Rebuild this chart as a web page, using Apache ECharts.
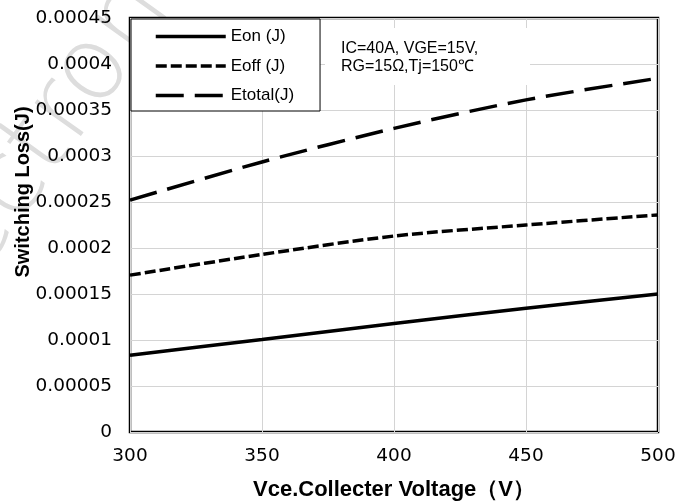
<!DOCTYPE html>
<html>
<head>
<meta charset="utf-8">
<script src="https://cdn.jsdelivr.net/npm/echarts@6/dist/echarts.min.js"></script>
<style>
  html, body { margin: 0; padding: 0; background: #fff; }
  #chart { width: 688px; height: 504px; }
</style>
</head>
<body>
<div id="chart"></div>
<script>
// values (J)
const voltage = [300, 350, 400, 450, 500];
const eon = [0.0000835, 0.0001005, 0.000118, 0.0001345, 0.00015];
const eoff = [0.0001705, 0.000193, 0.000213, 0.000225, 0.000236];
const etotal = [0.000252, 0.0002935, 0.00033, 0.000361, 0.0003845];
const seriesNames = ['Eon (J)', 'Eoff (J)', 'Etotal(J)'];
const noteLines = ['IC=40A, VGE=15V,', 'RG=15\u03a9,Tj=150\u2103'];

const chart = echarts.init(document.getElementById('chart'));

function pairs(ys) {
    return voltage.map((x, i) => [x, ys[i]]);
}

const lineOf = (name, ys, dash) => ({
    name: name,
    type: 'line',
    data: pairs(ys),
    smooth: 0.3,
    symbol: 'none',
    lineStyle: { color: '#000', width: 3.5, type: dash },
    itemStyle: { color: '#000' },
    z: 3
});

const option = {
    animation: false,
    backgroundColor: '#fff',
    grid: {
        left: 130, right: 30, top: 18, bottom: 72,
        outerBoundsMode: 'none',
        show: true,
        backgroundColor: '#fff',
        borderColor: '#000',
        borderWidth: 2.5
    },
    legend: {
        data: seriesNames,
        orient: 'vertical',
        left: 131, top: 19,
        padding: [9, 26, 7, 23],
        itemWidth: 70, itemHeight: 14, itemGap: 12.5,
        backgroundColor: '#fff',
        borderColor: '#000',
        borderWidth: 1,
        // hide the point symbol, keep the dashed line
        itemStyle: { opacity: 0 },
        lineStyle: { width: 3.5 },
        textStyle: { fontFamily: 'Liberation Sans', fontSize: 17, color: '#000' }
    },
    xAxis: {
        type: 'value',
        min: 300, max: 500, interval: 50,
        name: 'Vce.Collecter Voltage\uff08V\uff09',
        nameLocation: 'middle',
        nameGap: 47,
        nameTextStyle: { fontFamily: 'Liberation Sans', fontWeight: 'bold', fontSize: 22, color: '#000' },
        axisLine: { show: false },
        axisTick: { show: false },
        axisLabel: { fontFamily: 'DejaVu Sans', fontSize: 18.5, color: '#000', margin: 15 },
        splitLine: { lineStyle: { color: '#d4d4d4', width: 1 } }
    },
    yAxis: {
        type: 'value',
        min: 0, max: 0.00045, interval: 0.00005,
        name: 'Switching Loss(J)',
        nameLocation: 'middle',
        nameGap: 97,
        nameMoveOverlap: false,
        nameTextStyle: { fontFamily: 'Liberation Sans', fontWeight: 'bold', fontSize: 20, color: '#000', padding: [0, 0, 0, 66] },
        axisLine: { show: false },
        axisTick: { show: false },
        axisLabel: {
            fontFamily: 'DejaVu Sans', fontSize: 18.5, color: '#000', margin: 18,
            formatter: v => String(parseFloat(v.toFixed(6)))
        },
        splitLine: { lineStyle: { color: '#d4d4d4', width: 1 } }
    },
    graphic: [
        {
            // faint watermark behind the plot
            type: 'text',
            z: -10,
            x: 0, y: 292,
            rotation: 0.95,
            style: {
                text: 'ectron',
                fontFamily: 'DejaVu Sans',
                fontWeight: 200,
                fontSize: 104,
                fill: '#dddddd',
                textAlign: 'left',
                textVerticalAlign: 'bottom'
            }
        },
        {
            type: 'group',
            z: 5,
            children: [
                {
                    type: 'rect',
                    z: 5,
                    shape: { x: 325, y: 28, width: 205, height: 57 },
                    style: { fill: '#fff' }
                },
                {
                    type: 'text',
                    z: 6,
                    x: 341, y: 39,
                    style: {
                        text: noteLines.join('\n'),
                        fontFamily: 'Liberation Sans',
                        fontSize: 16,
                        lineHeight: 18.5,
                        fill: '#000'
                    }
                }
            ]
        }
    ],
    series: [
        lineOf(seriesNames[0], eon, 'solid'),
        lineOf(seriesNames[1], eoff, [11, 4]),
        lineOf(seriesNames[2], etotal, [28, 11])
    ]
};

chart.setOption(option);
</script>
</body>
</html>
